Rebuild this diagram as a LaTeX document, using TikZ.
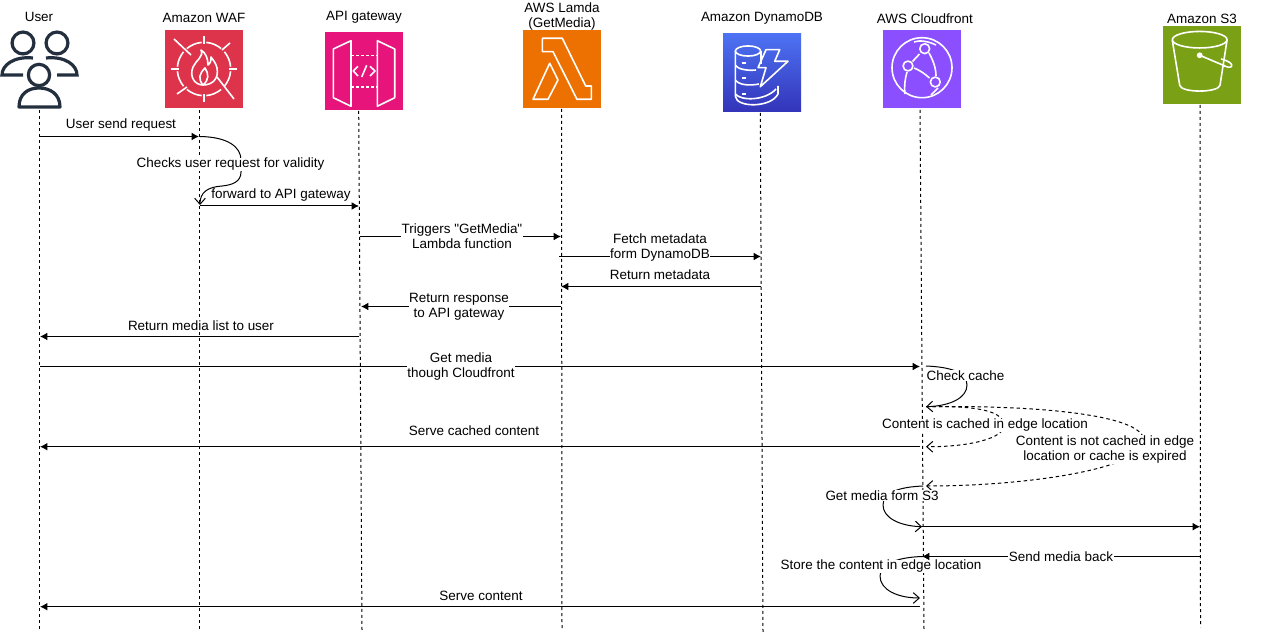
\documentclass[tikz,border=0pt]{standalone}
\usepackage{fontspec}
\setmainfont{Liberation Sans}
\newfontfamily\rawfont{Liberation Sans}
\usetikzlibrary{arrows.meta,positioning}
\definecolor{inkdark}{HTML}{232F3E}
\definecolor{wafred}{HTML}{DD344C}
\definecolor{apipink}{HTML}{E7157B}
\definecolor{lamorange}{HTML}{ED7100}
\definecolor{dyntop}{HTML}{4D72F3}
\definecolor{dynbot}{HTML}{3334B9}
\definecolor{cfpurple}{HTML}{8C4FFF}
\definecolor{sgreen}{HTML}{7AA116}
\begin{document}
\begin{tikzpicture}[x=0.75pt, y=-0.75pt, line width=0.75pt,
  font=\fontsize{10.1}{11.25}\selectfont, node distance=2pt]
\tikzset{
  icon/.style={rectangle, inner sep=0pt, outer sep=0pt, minimum size=58.5pt},
  head/.style={align=center, inner sep=1pt},
  lane/.style={dash pattern=on 2.25pt off 2.25pt},
  msg/.style={-{Latex[length=5.5pt,width=5.8pt]}},
  self/.style={-{Straight Barb[length=4.5pt,width=8pt]}},
  selfdash/.style={self, dash pattern=on 2.6pt off 2.25pt},
  lbl/.style={align=center, fill=white, inner sep=0.5pt},
  glyph/.style={draw=white, line width=1.2pt, line join=round}
}
\useasboundingbox (0,0) rectangle (1263,634);
% lifeline heads
\node[icon] (user) at (39,71) {};
\node[icon, fill=wafred]    (waf) at (204,69) {};
\node[icon, fill=apipink]   (api) at (364,71) {};
\node[icon, fill=lamorange] (lam) at (562,69) {};
\node[icon, top color=dyntop, bottom color=dynbot] (dyn) at (762,73) {};
\node[icon, fill=cfpurple]  (cf)  at (922,69) {};
\node[icon, fill=sgreen]    (sss) at (1202,65) {};
\node[head, above=6.5pt of user] (userh) {User};
\node[head, above=4.5pt of waf]  (wafh)  {Amazon WAF};
\node[head, above=5.5pt of api]  (apih)  {API gateway};
\node[head, above=-1.8pt of lam] (lamh) {AWS Lamda\\(GetMedia)};
\node[head, above=6pt of dyn]  (dynh)  {Amazon DynamoDB};
\node[head, above=3.5pt of cf, xshift=2.2pt] (cfh) {AWS Cloudfront};
\node[head, above=0.5pt of sss]  (sssh)  {Amazon S3};

% user
\begin{scope}[shift={(user.north west)}, draw=inkdark, line width=2.4pt]
  \draw (23,11) circle[radius=8.2pt];
  \draw (57,11) circle[radius=8.2pt];
  \draw (39,43) circle[radius=8pt];
  \draw (33,26) .. controls (14,24) and (2,33) .. (2,43) -- (23,43);
  \draw (46,26) .. controls (65,24) and (77,33) .. (77,43) -- (57,43);
  \draw[line join=round] (19,75) .. controls (19,62) and (28,56) .. (39,56) .. controls (50,56) and (60,62) .. (60,75) -- cycle;
\end{scope}
% waf
\begin{scope}[shift={(waf.north west)}]
  \foreach \a/\b in {5/40,50/85,95/130,140/175,185/220,230/265,275/310,320/355}
    \draw[glyph] ([shift={(\a:20pt)}]39,39) arc[start angle=\a, end angle=\b, radius=20pt];
  \draw[glyph] (39,6) -- (39,14); \draw[glyph] (39,64) -- (39,72);
  \draw[glyph] (6,39) -- (14,39); \draw[glyph] (64,39) -- (72,39);
  \draw[glyph] (9,9) -- (26,25); \draw[glyph] (52,47) -- (69,69);
  \draw[glyph] (57,20) -- (65,13); \draw[glyph] (12,64) -- (22,57);
  \draw[glyph] (36,20) .. controls (39,27) and (31,30) .. (28,37) .. controls (24,47) and (30,55) .. (38,55)
     .. controls (48,55) and (54,48) .. (52,38) .. controls (51,33) and (48,30) .. (46,27)
     .. controls (46,32) and (45,34) .. (43,35) .. controls (43,29) and (41,23) .. (36,20) -- cycle;
  \draw[glyph] (38,55) .. controls (33,49) and (34,44) .. (40,38) .. controls (44,44) and (44,50) .. (38,55);
\end{scope}
% api gateway
\begin{scope}[shift={(api.north west)}]
  \draw[glyph] (8.3,17) -- (26,8.7) -- (26,74.3) -- (8.3,65.7) -- cycle;
  \draw[glyph] (52.3,8.7) -- (69.7,17) -- (69.7,65.7) -- (52.3,74.3) -- cycle;
  \draw[glyph, dash pattern=on 2.2pt off 1.6pt] (26,23.7) -- (52,23.7);
  \draw[glyph, dash pattern=on 2.2pt off 1.6pt] (26,55.3) -- (52,55.3);
  \draw[glyph] (33,34.3) -- (28.3,39) -- (33,44);
  \draw[glyph] (45,34.3) -- (50,39) -- (45,44);
  \draw[glyph] (36.7,45) -- (41.7,33.3);
\end{scope}
% lambda
\begin{scope}[shift={(lam.north west)}]
  \draw[glyph] (19.3,8.3) -- (39.3,8.3) -- (62.7,56) -- (68.3,56) -- (68.3,69.3) -- (54,69.3) -- (30,21.7) -- (19.3,21.7) -- cycle;
  \draw[glyph] (26.7,33.3) -- (35,50) -- (25,69.3) -- (10,69.3) -- cycle;
\end{scope}
% dynamodb
\begin{scope}[shift={(dyn.north west)}]
  \draw[glyph] (25,17) ellipse[x radius=9.5pt, y radius=3.8pt];
  \draw[glyph] (12.3,17) -- (12.3,62) .. controls (13,74) and (48,74) .. (55,60) -- (55,52);
  \draw[glyph] (12.3,31) .. controls (14,35) and (24,37) .. (33,36);
  \draw[glyph] (12.3,46) .. controls (16,51) and (26,52) .. (36,50);
  \draw[glyph] (12.3,60) .. controls (18,67) and (42,67) .. (53,55);
  \draw[glyph] (37.7,17) -- (37.7,30);
  \draw[glyph] (19,29) -- (23,29); \draw[glyph] (19,44) -- (23,44); \draw[glyph] (19,60) -- (23,60);
  \draw[glyph] (43,15.7) -- (56.7,15.7) -- (51.7,27.3) -- (65,27.3) -- (37.3,52.7) -- (43,33.7) -- (35,33.7) -- cycle;
\end{scope}
% cloudfront
\begin{scope}[shift={(cf.north west)}]
  \draw[glyph] (39,37.7) circle[radius=22.5pt];
  \draw[glyph] (41.7,18.7) circle[radius=3.7pt];
  \draw[glyph] (25,36) circle[radius=3.7pt];
  \draw[glyph] (52.3,52) circle[radius=3.7pt];
  \draw[glyph] (36.5,24) -- (29.5,31.5);
  \draw[glyph] (31,38) .. controls (36,40) and (41,43) .. (46.5,48);
  \draw[glyph] (46,23) .. controls (50,30) and (53,38) .. (53,46);
  \draw[glyph] (24,42) .. controls (22,49) and (21,56) .. (22,64);
  \draw[glyph] (31,12) .. controls (36,10) and (45,11) .. (53,15);
  \draw[glyph] (55,58) .. controls (53,60) and (51,62) .. (48,65);
\end{scope}
% s3
\begin{scope}[shift={(sss.north west)}]
  \draw[glyph] (36.7,13.7) ellipse[x radius=20.5pt, y radius=6.2pt];
  \draw[glyph] (9.3,14.3) -- (16.7,59.3) .. controls (18,67) and (55,67) .. (57,59.3) -- (64,14.3);
  \fill[white] (36.7,29.3) circle[radius=2.2pt];
  \draw[glyph] (36.7,29.3) -- (62,40);
  \draw[glyph] (58,33) .. controls (66,35) and (70,38) .. (68.5,40.5) .. controls (67,42) and (63,41) .. (60,39);
\end{scope}

% lifelines
\coordinate (usertop) at (39.3,110);  \coordinate (userend) at (39.3,630);
\coordinate (waftop)  at (199.3,110); \coordinate (wafend)  at (199.3,630);
\coordinate (apitop)  at (358.7,111); \coordinate (apiend)  at (362,630);
\coordinate (lamtop)  at (561.5,109); \coordinate (lamend)  at (562,630);
\coordinate (dyntop)  at (760.3,113); \coordinate (dynend)  at (763,632);
\coordinate (cftop)   at (920,110);   \coordinate (cfend)   at (924,630);
\coordinate (ssstop)  at (1200,105);  \coordinate (sssend)  at (1200.5,627);
\draw[lane] (usertop) -- (userend);
\draw[lane] (waftop) -- (wafend);
\draw[lane] (apitop) -- (apiend);
\draw[lane] (lamtop) -- (lamend);
\draw[lane] (dyntop) -- (dynend);
\draw[lane] (cftop) -- (cfend);
\draw[lane] (ssstop) -- (sssend);

% message ends
\coordinate (m1a) at (40,136.5);   \coordinate (m1b) at (199,136.5);
\coordinate (v1a) at (200,136.5);  \coordinate (v1b) at (200,205);
\coordinate (m2a) at (200,206);    \coordinate (m2b) at (359,206);
\coordinate (m3a) at (360,236.5);  \coordinate (m3b) at (561,236.5);
\coordinate (m4a) at (559,256.5);  \coordinate (m4b) at (761,256.5);
\coordinate (m5a) at (761,286.5);  \coordinate (m5b) at (561,286.5);
\coordinate (m6a) at (561,306.5);  \coordinate (m6b) at (361,306.5);
\coordinate (m7a) at (359,336.5);  \coordinate (m7b) at (40,336.5);
\coordinate (m8a) at (40,366.5);   \coordinate (m8b) at (920,366.5);
\coordinate (c1a) at (926,366);    \coordinate (c1b) at (926,406.7);
\coordinate (m9a) at (920,446.7);  \coordinate (m9b) at (40,446.7);
\coordinate (d1b) at (926,446.7);  \coordinate (d2b) at (926,486);
\coordinate (g1a) at (923,486);    \coordinate (g1b) at (922,526.7);
\coordinate (m10a) at (922,526.7); \coordinate (m10b) at (1200,526.7);
\coordinate (m11a) at (1200,556.5); \coordinate (m11b) at (922,556.5);
\coordinate (s1a) at (923,556.5);  \coordinate (s1b) at (920,598);
\coordinate (m12a) at (920,606.7); \coordinate (m12b) at (40,606.7);

\draw[msg] (m1a) -- (m1b);
\draw[self] (v1a) .. controls (228,137) and (241,147) .. (241,160) -- (241,172) .. controls (241,182) and (232,185) .. (222,186) .. controls (208,187) and (200,192) .. (v1b);
\draw[msg] (m2a) -- (m2b);
\draw[msg] (m3a) -- (m3b);
\draw[msg] (m4a) -- (m4b);
\draw[msg] (m5a) -- (m5b);
\draw[msg] (m6a) -- (m6b);
\draw[msg] (m7a) -- (m7b);
\draw[msg] (m8a) -- (m8b);
\draw[self] (c1a) .. controls (950,367) and (967,372) .. (967,385) .. controls (967,398) and (950,406) .. (c1b);
\draw[msg] (m9a) -- (m9b);
\draw[selfdash] (c1b) .. controls (965,406) and (1003,408) .. (1004,425) .. controls (1005,438) and (970,447) .. (d1b);
\draw[selfdash] (c1b) .. controls (1040,405) and (1142,415) .. (1144,440) .. controls (1146,468) and (1030,486) .. (d2b);
\draw[self] (g1a) .. controls (900,487) and (883,492) .. (883,505) .. controls (883,518) and (900,526) .. (g1b);
\draw[msg] (m10a) -- (m10b);
\draw[msg] (m11a) -- (m11b);
\draw[self] (s1a) .. controls (900,557) and (880,563) .. (880,576) .. controls (880,590) and (898,598) .. (s1b);
\draw[msg] (m12a) -- (m12b);

% labels
\node[lbl] (l1)  at (121,125.5) {User send request};
\node[lbl] (l2)  at (230.5,164.5) {Checks user request for validity};
\node[lbl] (l3)  at (281,195.5) {forward to API gateway};
\node[lbl] (l4)  at (462,236) {{\rawfont Triggers "GetMedia"}\\Lambda function};
\node[lbl] (l5)  at (660,247.5) {Fetch metadata\\form DynamoDB};
\node[lbl] (l6)  at (660,275) {Return metadata};
\node[lbl] (l7)  at (459,306.5) {Return response\\to API gateway};
\node[lbl] (l8)  at (201,325.5) {Return media list to user};
\node[lbl] (l9)  at (461,367) {Get media\\though Cloudfront};
\node[lbl] (l10) at (965.5,375.5) {Check cache};
\node[lbl] (l11) at (474,430.5) {Serve cached content};
\node[lbl] (l12) at (985,425.5) {Content is cached in edge location};
\node[lbl] (l13) at (1105,449.5) {Content is not cached in edge\\location or cache is expired};
\node[lbl] (l14) at (882,495.5) {Get media form S3};
\node[lbl] (l15) at (1061,556.5) {Send media back};
\node[lbl] (l16) at (881,566.5) {Store the content in edge location};
\node[lbl] (l17) at (481,595.5) {Serve content};
\end{tikzpicture}
\end{document}
